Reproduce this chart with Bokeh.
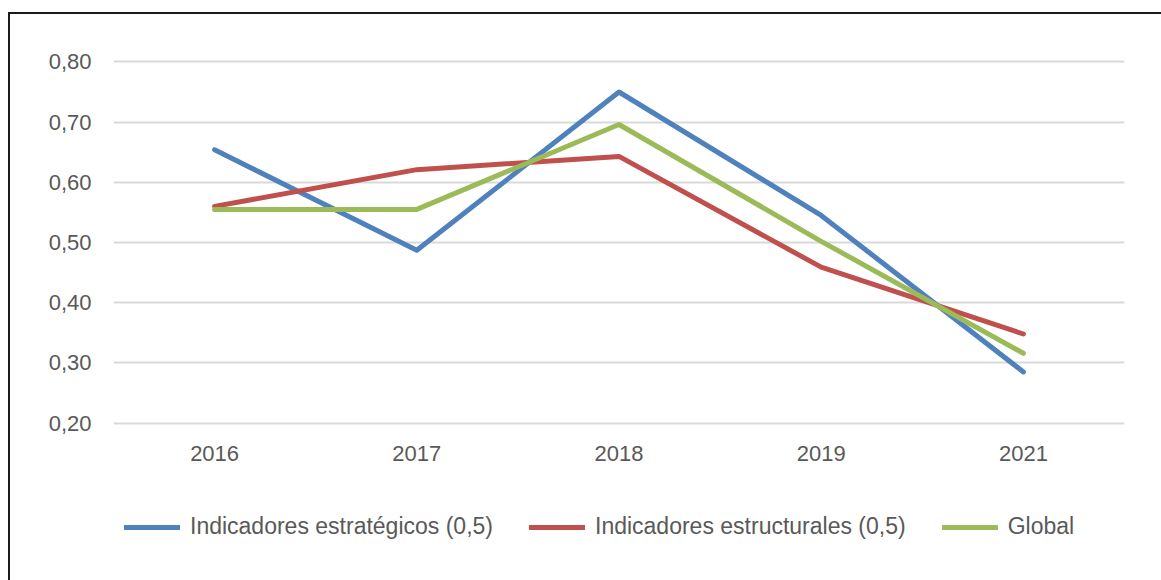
from bokeh.plotting import figure
from bokeh.layouts import column
from bokeh.models import Range1d, FixedTicker, Legend, LegendItem
from bokeh.embed import file_html
from bokeh.resources import INLINE

years = ["2016", "2017", "2018", "2019", "2021"]
estrategicos = [0.654, 0.487, 0.750, 0.545, 0.285]
estructurales = [0.560, 0.621, 0.643, 0.459, 0.348]
global_vals = [0.555, 0.555, 0.696, 0.502, 0.316]
series_names = ["Indicadores estratégicos (0,5)", "Indicadores estructurales (0,5)", "Global"]
series_colors = ["#4F81BD", "#C0504D", "#9BBB59"]
y_ticks = [0.2, 0.3, 0.4, 0.5, 0.6, 0.7, 0.8]
y_tick_labels = ["0,20", "0,30", "0,40", "0,50", "0,60", "0,70", "0,80"]

FONT = "Liberation Sans"
TXT = "#595959"

p = figure(x_range=years, y_range=Range1d(0.196, 0.804),
           width=1151, height=466, output_backend="svg", toolbar_location=None,
           min_border_left=103, min_border_right=37, min_border_top=45, min_border_bottom=55)
p.outline_line_color = None

for vals, c in zip([estrategicos, estructurales, global_vals], series_colors):
    p.line(years, vals, line_color=c, line_width=5, line_cap="round", line_join="round")

p.yaxis.ticker = FixedTicker(ticks=y_ticks)
p.yaxis.major_label_overrides = {t: l for t, l in zip(y_ticks, y_tick_labels)}
for ax in [p.xaxis[0], p.yaxis[0]]:
    ax.axis_line_color = None
    ax.major_tick_line_color = None
    ax.minor_tick_line_color = None
    ax.major_tick_out = 0
    ax.major_tick_in = 0
    ax.major_label_text_font = FONT
    ax.major_label_text_font_size = "22px"
    ax.major_label_text_color = TXT
p.yaxis.major_label_standoff = 22
p.xaxis.major_label_standoff = 20

p.xgrid.grid_line_color = None
p.ygrid.grid_line_color = "#d9d9d9"
p.ygrid.grid_line_width = 2

# legend strip (its frame is aligned with the main plot's frame by the column layout)
pl = figure(width=1151, height=100, x_range=Range1d(0, 1), y_range=Range1d(0, 1),
            output_backend="svg", toolbar_location=None,
            min_border_left=0, min_border_right=0, min_border_top=0, min_border_bottom=0)
pl.axis.visible = False
pl.grid.visible = False
pl.outline_line_color = None
nan = float("nan")
samples = [pl.line(x=[nan], y=[nan], line_color=c, line_width=5, line_cap="round")
           for c in series_colors]

legend = Legend(items=[LegendItem(label=n, renderers=[r]) for n, r in zip(series_names, samples)],
                orientation="horizontal", location=(11, 40),
                glyph_width=56, glyph_height=20, label_standoff=10, spacing=36,
                label_text_font=FONT, label_text_font_size="23px", label_text_color=TXT,
                border_line_color=None, background_fill_alpha=0, padding=0, margin=0)
pl.add_layout(legend, "center")

layout = column(p, pl, spacing=0,
                styles={"border-top": "2px solid #1a1a1a", "border-left": "2px solid #1a1a1a",
                        "margin-top": "12px", "margin-left": "8px"})

open("out.html", "w").write(file_html(layout, INLINE))
